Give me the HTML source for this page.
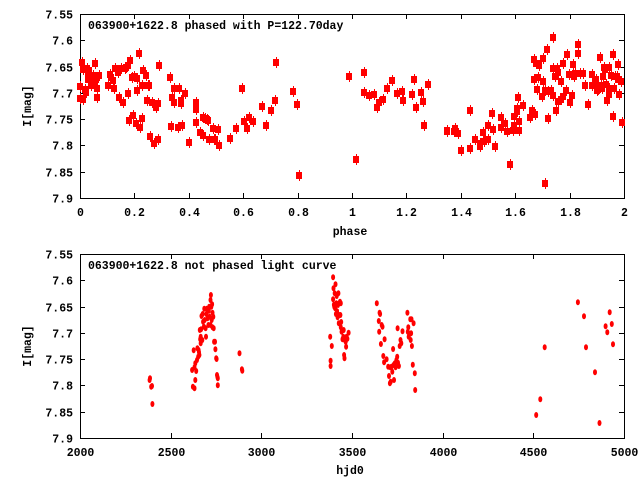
<!DOCTYPE html>
<html><head><meta charset="utf-8"><style>
html,body{margin:0;padding:0;background:#fff;}
svg text{font-family:"Liberation Mono","DejaVu Sans Mono",monospace;font-weight:bold;font-size:11.5px;fill:#000;}
</style></head><body>
<svg id="s" width="640" height="480" xmlns="http://www.w3.org/2000/svg">
<rect x="0" y="0" width="640" height="480" fill="#fff"/>
<g id="g"></g>
<text x="88" y="29">063900+1622.8 phased with P=122.70day</text>
<text x="88" y="269">063900+1622.8 not phased light curve</text>
<text x="350" y="235" text-anchor="middle">phase</text>
<text x="350" y="474" text-anchor="middle">hjd0</text>
<text transform="translate(31,106) rotate(-90)" text-anchor="middle">I[mag]</text>
<text transform="translate(31,346) rotate(-90)" text-anchor="middle">I[mag]</text>
</svg>
<script>
var g=document.getElementById('g'),h='';
function axes(y0,xl){
  var L=80,R=624,T=y0,B=y0+184;
  h+='<rect x="'+L+'.5" y="'+T+'.5" width="'+(R-L)+'" height="'+(B-T)+'" fill="none" stroke="#000"/>';
  var yl=['7.55','7.6','7.65','7.7','7.75','7.8','7.85','7.9'];
  for(var i=0;i<8;i++){var y=Math.round(T+i*184/7)+.5;
    h+='<line x1="'+L+'" x2="'+(L+5)+'" y1="'+y+'" y2="'+y+'" stroke="#000"/><line x1="'+(R-5)+'" x2="'+R+'" y1="'+y+'" y2="'+y+'" stroke="#000"/>';
    h+='<text x="73" y="'+(y+4)+'" text-anchor="end">'+yl[i]+'</text>';}
  var n=xl.length-1;
  for(var i=0;i<=n;i++){var x=Math.round(L+i*(R-L)/n)+.5;
    h+='<line x1="'+x+'" x2="'+x+'" y1="'+T+'" y2="'+(T+5)+'" stroke="#000"/><line x1="'+x+'" x2="'+x+'" y1="'+(B-5)+'" y2="'+B+'" stroke="#000"/>';
    h+='<text x="'+x+'" y="'+(B+18)+'" text-anchor="middle">'+xl[i]+'</text>';}
}
axes(14,['0','0.2','0.4','0.6','0.8','1','1.2','1.4','1.6','1.8','2']);
axes(254,['2000','2500','3000','3500','4000','4500','5000']);
var p1=[[240,258],[245,185],[240,295],[250,297],[250,208],[255,266],[258,276],[262,205],[265,228],[265,238],[268,210],[272,256],[275,240],[280,225],[283,242],[285,190],[288,238],[292,265],[292,292],[297,226],[325,256],[330,222],[333,230],[338,240],[343,265],[346,203],[353,215],[357,290],[362,205],[370,307],[375,205],[378,200],[385,278],[385,195],[388,360],[390,180],[396,232],[398,345],[403,228],[408,370],[410,270],[412,234],[418,160],[420,382],[425,355],[425,256],[430,210],[437,225],[442,300],[445,256],[448,254],[450,408],[457,305],[463,430],[468,320],[475,310],[475,418],[478,196],[510,232],[514,378],[516,292],[522,264],[522,305],[533,380],[538,264],[543,300],[544,308],[547,376],[556,278],[568,427],[588,306],[588,328],[588,365],[600,396],[608,352],[610,406],[615,355],[620,358],[625,360],[628,418],[638,385],[642,418],[645,418],[655,388],[658,436],[690,414],[707,385],[727,265],[733,364],[742,385],[748,352],[760,364],[787,319],[798,376],[814,331],[826,301],[829,187],[880,274],[892,311],[898,526]];
var p2=[[88,229],[108,478],[133,217],[133,276],[146,286],[163,283],[170,322],[178,307],[190,298],[200,265],[217,241],[232,280],[245,273],[250,301],[277,283],[283,238],[289,320],[304,277],[310,304],[312,376],[325,253],[380,390],[380,393],[403,393],[405,384],[415,400],[424,451],[451,330],[451,444],[466,418],[479,428],[479,438],[488,397],[493,422],[505,376],[505,418],[516,340],[518,388],[526,438],[544,352],[544,382],[556,368],[560,394],[571,492],[578,390],[582,347],[582,376],[591,323],[592,333],[595,292],[596,364],[596,390],[610,316],[630,352],[636,330],[643,178],[643,238],[645,342],[648,190],[650,268],[653,232],[656,196],[665,288],[670,175],[670,243],[676,270],[676,549],[682,148],[683,355],[685,273],[694,270],[698,285],[700,111],[700,205],[704,229],[708,330],[710,205],[714,304],[715,217],[722,244],[723,296],[728,190],[730,287],[737,271],[742,163],[747,223],[750,306],[757,286],[760,193],[762,228],[766,219],[774,133],[775,160],[780,219],[788,219],[794,256],[805,313],[816,222],[816,256],[826,256],[829,236],[830,270],[835,268],[840,172],[842,256],[846,264],[848,229],[852,200],[856,206],[857,252],[862,300],[866,200],[866,265],[868,283],[873,226],[879,162],[879,348],[882,265],[885,228],[890,227],[895,237],[895,192],[898,283],[902,244],[906,366]];
function sq(x,y){x=Math.round(x);y=Math.round(y);
  h+='<rect x="'+(x-3)+'" y="'+(y-3)+'" width="6" height="7" fill="#f00"/><line x1="'+(x+.5)+'" x2="'+(x+.5)+'" y1="'+(y-5)+'" y2="'+(y+6)+'" stroke="#f00"/>';}
p1.forEach(function(p){sq(p[0]/3,p[1]/3);});
p2.forEach(function(p){sq(p[0]/3+320,p[1]/3);});
var p3=[[366,420],[370,440],[367,415],[372,438],[373,492],[470,390],[472,440],[474,331],[476,382],[476,445],[478,420],[478,370],[480,393],[482,360],[483,325],[485,350],[486,330],[487,337],[488,345],[489,270],[490,298],[491,310],[491,290],[492,268],[493,228],[495,300],[496,222],[497,245],[499,260],[500,206],[501,240],[503,265],[504,290],[505,222],[506,206],[508,235],[510,255],[511,212],[512,200],[513,230],[515,180],[515,255],[516,165],[517,200],[518,240],[519,193],[520,218],[520,262],[522,230],[523,265],[524,305],[526,305],[527,328],[529,355],[530,357],[531,405],[532,410],[533,415],[533,436],[586,340],[592,388],[593,392],[808,290],[809,362],[809,378],[812,318],[815,178],[815,112],[816,145],[817,194],[818,200],[819,160],[820,205],[821,133],[822,222],[823,190],[824,168],[825,214],[826,232],[827,195],[828,160],[829,250],[830,190],[831,225],[832,185],[833,225],[834,262],[834,190],[835,246],[836,275],[838,298],[840,290],[841,270],[842,345],[843,355],[844,300],[845,302],[846,305],[847,320],[848,290],[850,296],[853,278],[922,190],[927,243],[928,275],[929,218],[930,222],[932,312],[934,255],[936,260],[938,348],[940,367],[941,298],[946,358],[950,380],[952,408],[954,430],[955,382],[956,425],[958,380],[960,395],[962,327],[963,375],[964,420],[966,370],[968,382],[970,360],[972,350],[973,265],[974,368],[976,378],[978,318],[980,300],[982,310],[985,274],[997,218],[998,275],[999,262],[1000,290],[1002,282],[1004,238],[1005,300],[1006,280],[1007,238],[1008,318],[1010,374],[1012,250],[1015,400],[1016,450],[1312,525],[1322,478],[1333,322],[1414,187],[1429,229],[1434,322],[1456,397],[1467,549],[1482,259],[1486,277],[1492,217],[1497,252],[1500,313]];
p3.forEach(function(p){var x=p[0]/2.447,y=240+p[1]/3;
  h+='<ellipse cx="'+x.toFixed(1)+'" cy="'+y.toFixed(1)+'" rx="2" ry="3" fill="#f00"/>';});
g.innerHTML=h;
</script>
</body></html>
